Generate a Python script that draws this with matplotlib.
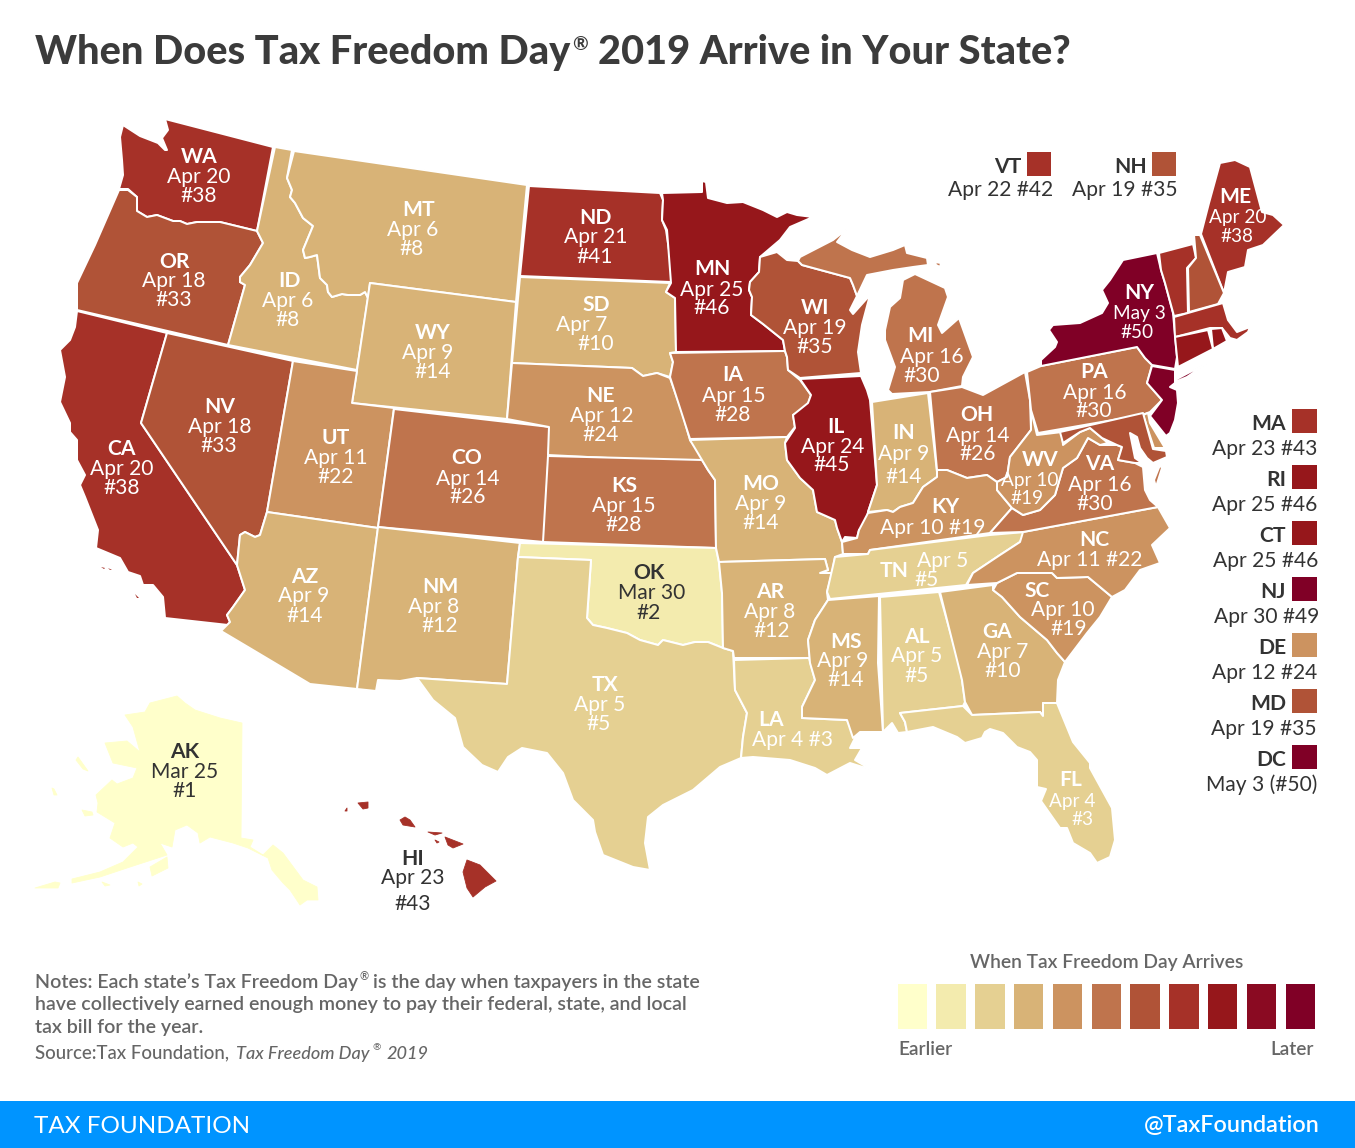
import numpy as np
import matplotlib
matplotlib.use("Agg")
import matplotlib.pyplot as plt
from matplotlib.patches import Polygon, Rectangle

plt.rcParams['font.family'] = ['Lato', 'DejaVu Sans']

# ---------- data ----------
STATES = ['WA','OR','CA','NV','ID','MT','WY','UT','AZ','CO','NM','ND','SD','NE','KS','OK','TX','MN','IA','MO','AR','LA',
          'MS','WI','IL','IN','MI','OH','KY','TN','AL','GA','SC','NC','FL','VA','WV','PA','NY','ME','AK','HI',
          'VT','NH','MA','RI','CT','NJ','DE','MD','DC']
DATES = ['Apr 20','Apr 18','Apr 20','Apr 18','Apr 6','Apr 6','Apr 9','Apr 11','Apr 9','Apr 14','Apr 8','Apr 21','Apr 7','Apr 12','Apr 15','Mar 30','Apr 5','Apr 25','Apr 15','Apr 9','Apr 8','Apr 4',
         'Apr 9','Apr 19','Apr 24','Apr 9','Apr 16','Apr 14','Apr 10','Apr 5','Apr 5','Apr 7','Apr 10','Apr 11','Apr 4','Apr 16','Apr 10','Apr 16','May 3','Apr 20','Mar 25','Apr 23',
         'Apr 22','Apr 19','Apr 23','Apr 25','Apr 25','Apr 30','Apr 12','Apr 19','May 3']
RANKS = [38,33,38,33,8,8,14,22,14,26,12,41,10,24,28,2,5,46,28,14,12,3,
         14,35,45,14,30,26,19,5,5,10,19,22,3,30,19,30,50,38,1,43,
         42,35,43,46,46,49,24,35,50]
PALETTE = ['#FFFFCB','#F3EBAE','#E5D092','#D8B377','#CC9360','#BF744D','#B05337','#A63128','#96171B','#8A0A22','#800026']
# first date of each colour class (month, day)
CLASS_STARTS = [(3,1),(3,30),(4,4),(4,6),(4,10),(4,14),(4,18),(4,20),(4,24),(4,26),(4,30)]

# state outlines
OUTLINES = {
'WA':[[(165,119),(273,147),(257,231),(220,222),(197,222),(187,224),(180,221),(173,221),(157,215),(147,217),(137,211),(137,197),(128,189),(119,189),(123,175),(122,160),(120,137),(123,125),(140,136),(158,143),(165,150),(167,150),(162,138),(168,130)]],
'OR':[[(119,190),(128,190),(137,197),(137,211),(147,217),(157,215),(173,221),(180,221),(187,224),(197,222),(220,222),(257,231),(263,243),(250,265),(240,277),(240,282),(245,285),(228,345),(77,310),(77,283),(95,245)]],
'CA':[[(77,311),(167,333),(141,423),(237,565),(245,590),(233,607),(227,615),(230,622),(228,625),(165,618),(163,597),(153,585),(143,585),(140,576),(128,572),(120,558),(96,548),(98,530),(85,497),(80,485),(85,475),(77,460),(77,440),(70,432),(70,423),(60,402),(65,377),(60,350),(70,340),(75,327)]],
'NV':[[(167,333),(293,361),(267,512),(260,535),(255,537),(245,532),(240,535),(237,565),(141,423)]],
'ID':[[(275,147),(292,150),(287,178),(292,190),(290,197),(295,203),(303,218),(313,226),(303,250),(305,258),(310,257),(317,255),(320,278),(327,285),(328,292),(332,297),(342,294),(348,295),(360,295),(365,292),(368,298),(357,370),(228,345),(245,285),(240,282),(240,277),(250,265),(263,243),(257,231)]],
'MT':[[(294,151),(527,185),(516,302),(370,283),(368,298),(365,292),(360,295),(348,295),(342,294),(332,297),(328,292),(327,285),(320,278),(317,255),(310,257),(305,258),(303,250),(313,226),(303,218),(295,203),(290,197),(292,190),(287,178)]],
'WY':[[(370,283),(516,302),(507,419),(352,403)]],
'UT':[[(293,361),(357,371),(352,403),(394,408),(378,528),(267,512)]],
'AZ':[[(267,512),(378,528),(357,689),(310,684),(253,650),(221,631),(230,622),(227,615),(233,607),(245,590),(237,565),(240,535),(245,532),(255,537),(260,535)]],
'CO':[[(394,409),(550,427),(544,542),(378,527)]],
'NM':[[(378,527),(520,543),(518,557),(507,684),(417,678),(400,681),(378,680),(376,691),(357,689)]],
'ND':[[(529,186),(660,193),(663,200),(662,220),(666,230),(672,270),(671,282),(520,276)]],
'SD':[[(520,277),(670,283),(666,292),(675,298),(676,352),(670,353),(673,362),(670,377),(657,373),(643,376),(632,368),(512,363)]],
'NE':[[(512,363),(632,368),(643,376),(657,373),(670,378),(682,412),(690,440),(707,463),(548,455),(549,427),(507,419)]],
'KS':[[(548,456),(702,460),(708,470),(715,480),(716,548),(543,542)]],
'OK':[[(520,543),(716,548),(719,563),(722,593),(723,648),(708,642),(695,642),(683,645),(663,640),(658,645),(640,640),(627,633),(607,628),(593,625),(587,618),(591,560),(518,557)]],
'TX':[[(518,557),(591,560),(587,618),(593,625),(607,628),(627,633),(640,640),(658,645),(663,640),(683,645),(695,642),(708,642),(723,648),(733,651),(735,690),(747,713),(743,737),(741,758),(720,767),(693,790),(663,805),(648,817),(645,843),(650,870),(633,867),(603,855),(595,832),(593,820),(573,800),(563,773),(547,753),(522,748),(508,757),(498,772),(482,765),(463,747),(455,718),(433,700),(417,678),(507,684)]],
'MN':[[(662,193),(702,192),(702,181),(706,182),(708,198),(727,203),(743,202),(763,210),(777,217),(787,212),(797,215),(813,217),(790,227),(780,240),(760,257),(759,272),(750,282),(749,290),(752,297),(751,315),(763,324),(783,340),(785,351),(676,352),(675,298),(666,292),(671,283),(667,230),(662,220),(663,200)]],
'IA':[[(670,353),(785,351),(787,357),(788,370),(800,380),(811,395),(807,407),(793,415),(795,427),(787,437),(690,439),(670,377),(673,362)]],
'MO':[[(690,440),(787,437),(785,443),(787,460),(800,478),(813,490),(817,512),(835,520),(837,528),(842,542),(843,554),(835,557),(832,573),(820,573),(828,570),(825,559),(719,562),(716,548),(715,480),(708,470),(702,460)]],
'AR':[[(719,562),(825,559),(828,570),(820,573),(832,573),(827,592),(828,600),(815,620),(808,640),(810,658),(734,658),(733,651),(723,648),(722,593)]],
'LA':[[(734,660),(809,658),(815,680),(802,707),(802,718),(847,720),(855,738),(850,748),(862,748),(855,760),(872,770),(850,763),(827,775),(815,768),(790,760),(753,757),(741,758),(743,737),(747,713),(735,690)]],
'MS':[[(828,600),(879,596),(878,663),(883,732),(860,732),(853,738),(847,720),(802,718),(802,707),(815,680),(810,663),(808,640),(815,620)]],
'WI':[[(798,261),(802,265),(850,278),(853,285),(857,296),(850,310),(853,314),(870,295),(862,325),(858,352),(861,373),(800,378),(788,370),(787,357),(785,351),(783,340),(763,324),(751,315),(752,297),(749,290),(750,282),(759,272),(760,257),(777,252),(787,260)]],
'IL':[[(800,379),(861,376),(867,390),(870,400),(877,485),(868,512),(866,525),(859,530),(857,538),(845,537),(842,542),(837,528),(835,520),(817,512),(813,490),(800,478),(787,460),(785,443),(795,428),(793,415),(808,403),(811,395)]],
'IN':[[(872,402),(928,393),(937,472),(937,477),(923,487),(913,503),(900,507),(893,512),(887,510),(868,512),(877,485)]],
'MI':[[(798,261),(800,257),(833,240),(847,229),(837,242),(852,250),(870,257),(893,250),(905,245),(907,253),(927,258),(928,265),(913,267),(893,270),(867,275),(857,296),(853,285),(850,278),(802,265)],
      [(892,394),(888,390),(895,367),(885,340),(885,330),(890,307),(900,298),(903,280),(915,274),(945,288),(948,297),(938,325),(942,333),(959,318),(973,357),(963,377),(962,386),(930,392)],
      [(935,262),(941,263),(940,267),(936,265)]],
'OH':[[(930,392),(962,387),(983,395),(1025,372),(1030,400),(1031,430),(1010,457),(1007,477),(997,482),(987,475),(967,478),(947,470),(937,470)]],
'KY':[[(937,470),(947,470),(967,478),(987,475),(997,482),(997,490),(1012,508),(990,533),(870,550),(868,554),(843,554),(842,542),(857,538),(859,530),(868,513),(887,510),(893,512),(900,507),(913,503),(923,487),(937,477)]],
'TN':[[(1025,532),(1020,542),(1000,555),(973,573),(966,585),(830,599),(827,592),(835,557),(868,554),(870,550),(990,535)]],
'AL':[[(880,597),(939,592),(960,667),(962,680),(965,702),(963,706),(900,713),(905,722),(907,732),(898,733),(892,723),(883,732)]],
'GA':[[(940,592),(993,585),(993,590),(1002,597),(1020,617),(1047,640),(1057,653),(1065,662),(1058,680),(1057,703),(1043,703),(1043,716),(1040,712),(972,715),(965,702),(962,680)]],
'SC':[[(997,583),(1017,573),(1052,573),(1057,578),(1088,577),(1112,597),(1100,617),(1087,633),(1065,662),(1057,653),(1047,640),(1020,617),(1002,597),(993,590)]],
'NC':[[(1023,532),(1158,507),(1170,528),(1152,545),(1160,563),(1140,570),(1125,590),(1112,597),(1088,577),(1057,578),(1052,573),(1017,573),(997,583),(967,585),(973,573),(1000,555),(1020,542)]],
'FL':[[(900,713),(963,706),(967,710),(972,715),(1040,712),(1043,716),(1043,703),(1057,703),(1073,742),(1090,763),(1090,768),(1112,808),(1115,840),(1110,857),(1097,863),(1090,853),(1073,843),(1067,828),(1060,828),(1041,801),(1046,789),(1037,787),(1037,760),(1030,752),(1017,747),(1003,733),(990,729),(985,732),(982,738),(965,743),(957,737),(933,727),(907,732),(905,722)],
      [(1082,879),(1088,877),(1086,880)]],
'VA':[[(990,533),(1012,508),(1023,515),(1040,510),(1055,495),(1063,468),(1077,458),(1088,438),(1100,445),(1117,445),(1122,447),(1118,460),(1135,463),(1143,467),(1145,490),(1150,500),(1158,507),(1023,532)],
      [(1160,465),(1162,468),(1156,487),(1154,480)]],
'WV':[[(1037,435),(1062,432),(1063,445),(1080,432),(1090,428),(1102,438),(1108,443),(1100,445),(1088,438),(1077,458),(1063,468),(1055,495),(1040,510),(1023,515),(1012,508),(997,490),(997,482),(1007,477),(1010,457),(1031,430),(1031,410)]],
'PA':[[(1027,372),(1041,366),(1137,347),(1145,358),(1152,365),(1147,383),(1162,400),(1150,412),(1142,415),(1038,433),(1031,410),(1030,400)]],
'NY':[[(1157,253),(1161,270),(1165,283),(1173,313),(1177,357),(1175,369),(1152,365),(1145,358),(1137,347),(1041,366),(1041,360),(1055,347),(1057,342),(1049,330),(1053,325),(1080,323),(1102,313),(1108,303),(1102,290),(1110,280),(1123,260)],
      [(1175,380),(1209,362),(1187,377),(1175,382)]],
'ME':[[(1201,234),(1209,203),(1220,163),(1235,160),(1250,167),(1262,212),(1273,215),(1284,225),(1263,245),(1248,250),(1245,267),(1228,272),(1224,293)]],
'VT':[[(1159,253),(1193,244),(1196,258),(1187,268),(1188,313),(1174,316),(1165,283),(1161,270)]],
'NH':[[(1194,235),(1200,235),(1224,293),(1218,304),(1189,312),(1188,268),(1196,258)]],
'MA':[[(1174,317),(1223,303),(1228,320),(1237,332),(1250,327),(1248,332),(1237,340),(1230,338),(1222,328),(1210,328),(1175,337)]],
'CT':[[(1175,337),(1208,330),(1213,349),(1178,367),(1177,357)]],
'RI':[[(1211,329),(1222,328),(1227,341),(1213,349)]],
'NJ':[[(1152,366),(1175,370),(1175,383),(1170,387),(1177,390),(1178,403),(1175,420),(1170,433),(1166,436),(1150,416),(1162,400),(1147,383)]],
'DE':[[(1143,415),(1148,413),(1150,423),(1165,448),(1154,448)]],
'MD':[[(1060,432),(1143,413),(1153,449),(1166,451),(1167,457),(1153,463),(1147,458),(1140,448),(1137,437),(1130,433),(1132,443),(1135,458),(1142,463),(1135,463),(1118,460),(1122,447),(1117,445),(1102,438),(1090,428),(1080,432),(1063,443)]],
'DC':[],
'AK':[[(125,715),(145,712),(150,703),(177,696),(185,703),(195,710),(220,718),(242,723),(241,838),(253,840),(250,847),(263,855),(273,845),(283,853),(303,880),(317,887),(318,900),(307,900),(300,905),(290,890),(283,883),(272,870),(268,858),(248,848),(233,843),(210,837),(200,843),(198,833),(187,825),(175,830),(172,847),(160,843),(167,855),(127,868),(100,877),(72,883),(72,879),(100,872),(123,862),(138,847),(133,843),(123,847),(110,838),(115,823),(97,812),(98,803),(96,795),(112,780),(117,784),(133,778),(137,768),(113,763),(105,743),(127,741),(140,752),(133,727)],
      [(76,760),(78,757),(88,771),(83,769)],[(82,810),(92,812),(93,815),(85,816)],[(52,788),(54,789),(57,795),(54,795)],
      [(150,867),(167,857),(168,868),(152,876)],[(35,888),(55,882),(60,883),(58,888)],[(102,882),(110,885),(105,886)],[(138,882),(142,884),(139,886)]],
'HI':[[(467,860),(480,865),(496,881),(485,887),(473,897),(467,888),(463,872)],[(445,837),(463,844),(453,848),(448,845)],
      [(428,832),(442,833),(435,835)],[(435,840),(439,842),(437,843)],[(405,817),(410,820),(415,827),(403,825),(400,820)],
      [(358,803),(368,802),(368,808),(363,809)],[(345,811),(347,808),(347,811)]],
}

# ---------- layout (label centres: name, date, rank) ----------
LABEL_POS = {
'WA':[(199,155),(199,175),(199,194)],'OR':[(174,260),(174,279),(174,298)],'CA':[(122,447),(122,467),(122,486)],
'NV':[(220,405),(220,425),(219,444)],'ID':[(289,279),(288,299),(288,318)],'MT':[(419,208),(413,228),(412,247)],
'WY':[(433,331),(428,351),(433,370)],'UT':[(336,436),(336,456),(336,475)],'AZ':[(305,575),(304,594),(305,614)],
'CO':[(467,456),(468,477),(468,495)],'NM':[(440,585),(434,605),(440,624)],'ND':[(595,216),(596,235),(595,255)],
'SD':[(596,303),(582,323),(596,342)],'NE':[(601,394),(602,414),(601,433)],'KS':[(624,484),(624,504),(624,523)],
'OK':[(649,571),(652,591),(649,611)],'TX':[(605,683),(600,703),(599,722)],'MN':[(712,267),(712,288),(712,306)],
'IA':[(733,373),(734,394),(733,413)],'MO':[(761,482),(761,502),(761,521)],'AR':[(770,590),(770,610),(772,629)],
'MS':[(846,640),(843,659),(846,678)],'WI':[(815,306),(815,326),(815,345)],'IL':[(836,425),(833,445),(832,463)],
'IN':[(904,431),(904,452),(904,475)],'MI':[(920,334),(932,355),(922,374)],'OH':[(977,413),(978,434),(978,452)],
'TN':[(894,569),(943,559),(927,578)],'AL':[(917,635),(917,654),(917,674)],'GA':[(997,630),(1003,650),(1003,669)],
'SC':[(1037,589),(1063,608),(1069,627)],'FL':[(1071,778),(1072,800),(1082,818)],'VA':[(1100,462),(1100,483),(1095,502)],
'WV':[(1040,458),(1030,479),(1027,497)],'PA':[(1094,370),(1095,391),(1094,409)],'NY':[(1139,291),(1139,312),(1137,331)],
'ME':[(1235,195),(1238,216),(1237,235)],'AK':[(185,750),(185,770),(185,789)],'HI':[(413,857),(413,876),(413,902)],
}
# date and rank on one line
ONE_LINE_POS = {'LA':[(771,718),(793,738)],'KY':[(945,505),(933,526)],'NC':[(1094,538),(1090,558)]}
SMALL_TEXT = {'FL':19,'ME':19,'NY':19,'WV':19}
DARK_TEXT = {'AK','OK','HI'}
TOP_CALLOUTS = {'VT':(1027,1021),'NH':(1152,1147)}
SIDE_CALLOUTS = ['MA','RI','CT','NJ','DE','MD','DC']

MONTHS = {'Mar':3,'Apr':4,'May':5}
def colour_of(date):
    m, d = date.split()
    return PALETTE[np.searchsorted(np.array([a*100+b for a, b in CLASS_STARTS]), MONTHS[m]*100+int(d), side='right')-1]

COLOUR = {s: colour_of(d) for s, d in zip(STATES, DATES)}
DATE = dict(zip(STATES, DATES)); RANK = dict(zip(STATES, RANKS))

W, H = 1355, 1148
fig = plt.figure(figsize=(W/100, H/100), dpi=100)
ax = fig.add_axes([0, 0, 1, 1])
ax.set_xlim(0, W); ax.set_ylim(H, 0); ax.axis('off')
DARK = '#333333'; GREY = '#666666'
pt = lambda px: px*0.72

def put(x, y, s, px=21, weight='regular', color='white', ha='center', **kw):
    ax.text(x, y + px*0.36, s, fontsize=pt(px), fontweight=weight, color=color, ha=ha, va='baseline', **kw)

for s in STATES:
    for ring in OUTLINES[s]:
        if s in ('AK', 'HI'):
            ax.add_patch(Polygon(ring, closed=True, facecolor=COLOUR[s], edgecolor=COLOUR[s], linewidth=0.6, joinstyle='round', zorder=2))
        else:
            ax.add_patch(Polygon(ring, closed=True, facecolor=COLOUR[s], edgecolor='white', linewidth=1.45, joinstyle='round', zorder=2))

# California islands, drawn in the state's colour
for ring in [[(101,567),(105,568),(104,569)],[(108,568),(112,570),(110,570)],[(135,594),(139,598),(137,598)]]:
    ax.add_patch(Polygon(ring, closed=True, facecolor=COLOUR['CA'], edgecolor='none', zorder=2))

for s, pos in LABEL_POS.items():
    c = DARK if s in DARK_TEXT else 'white'
    small = SMALL_TEXT.get(s, 21)
    put(*pos[0], s, weight='bold', color=c)
    put(*pos[1], DATE[s], px=small, color=c)
    put(*pos[2], f'#{RANK[s]}', px=small, color=c)
for s, pos in ONE_LINE_POS.items():
    put(*pos[0], s, weight='bold')
    put(*pos[1], f'{DATE[s]} #{RANK[s]}')

# callouts for small states
for s, (x0, xr) in TOP_CALLOUTS.items():
    ax.add_patch(Rectangle((x0, 152), 24, 24, facecolor=COLOUR[s], edgecolor='none', zorder=2))
    put(xr, 165, s, weight='bold', color=DARK, ha='right')
    put(x0+26, 188, f'{DATE[s]} #{RANK[s]}', color=DARK, ha='right')
for i, s in enumerate(SIDE_CALLOUTS):
    y = 409 + 56*i
    ax.add_patch(Rectangle((1292, y), 25, 24, facecolor=COLOUR[s], edgecolor='none', zorder=2))
    put(1286, y+13, s, weight='bold', color=DARK, ha='right')
    label = f'{DATE[s]} #{RANK[s]}' if s != 'DC' else f'{DATE[s]} (#{RANK[s]})'
    put(1317 if s not in ('NJ','CT') else (1319 if s == 'NJ' else 1318), y+38, label, color=DARK, ha='right')

# title
put(35, 50, 'When Does Tax Freedom Day', px=39.8, weight='black', color='#3B3B3B', ha='left')
put(572, 43, '®', px=19, weight='bold', color='#3B3B3B', ha='left')
put(598, 50, '2019 Arrive in Your State?', px=39.8, weight='black', color='#3B3B3B', ha='left')

# colour legend
put(1107, 961, 'When Tax Freedom Day Arrives', px=19.3, weight='semibold', color=GREY)
for i, col in enumerate(PALETTE):
    ax.add_patch(Rectangle((897.5 + i*38.8, 984), 29.5, 45, facecolor=col, edgecolor='none', zorder=2))
put(898, 1048, 'Earlier', px=19, weight='semibold', color=GREY, ha='left')
put(1314, 1048, 'Later', px=19, weight='semibold', color=GREY, ha='right')

# notes
put(35, 981, 'Notes: Each state’s Tax Freedom Day', px=19.6, weight='semibold', color=GREY, ha='left')
put(360, 976, '®', px=11, weight='semibold', color=GREY, ha='left')
put(373, 981, 'is the day when taxpayers in the state', px=19.6, weight='semibold', color=GREY, ha='left')
put(35, 1003, 'have collectively earned enough money to pay their federal, state, and local', px=19.6, weight='semibold', color=GREY, ha='left')
put(35, 1026, 'tax bill for the year.', px=19.6, weight='semibold', color=GREY, ha='left')
put(35, 1052, 'Source:Tax Foundation,', px=18.6, weight='medium', color=GREY, ha='left')
put(236, 1052, 'Tax Freedom Day', px=18.2, weight='medium', color=GREY, ha='left', style='italic')
put(372, 1047, '®', px=10, weight='medium', color=GREY, ha='left', style='italic')
put(387, 1052, '2019', px=18.2, weight='medium', color=GREY, ha='left', style='italic')

# footer
ax.add_patch(Rectangle((0, 1101), W, 47, facecolor='#0094FF', edgecolor='none', zorder=1))
put(34, 1124, 'TAX FOUNDATION', px=24.3, color='white', ha='left')
put(1320, 1124, '@TaxFoundation', px=23.4, weight='semibold', color='white', ha='right')

fig.savefig('out.png', dpi=100)
